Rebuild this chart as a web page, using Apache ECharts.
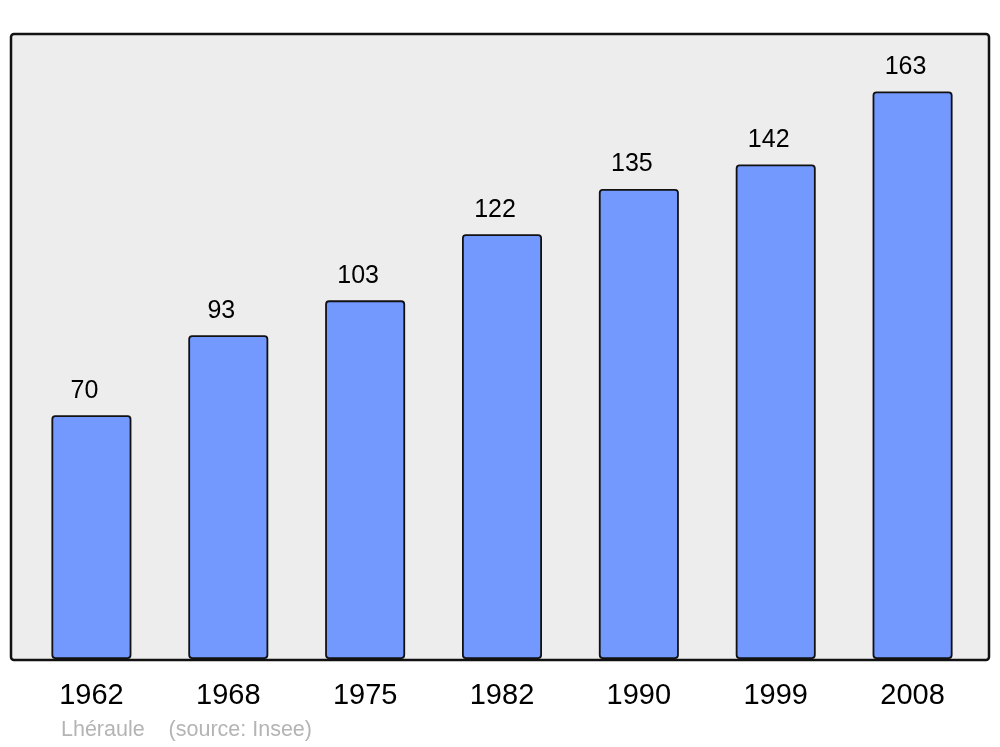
<!DOCTYPE html>
<html>
<head>
<meta charset="utf-8">
<script src="https://cdn.jsdelivr.net/npm/echarts@6/dist/echarts.min.js"></script>
<style>
  html, body { margin: 0; padding: 0; background: #fff; }
  #chart { width: 1000px; height: 747px; }
</style>
</head>
<body>
<div id="chart"></div>
<script>
const years = ["1962", "1968", "1975", "1982", "1990", "1999", "2008"];
const population = [70, 93, 103, 122, 135, 142, 163];

const chart = echarts.init(document.getElementById("chart"));

chart.setOption({
  animation: false,
  textStyle: { fontFamily: "Liberation Sans, Arial, sans-serif" },
  grid: { left: 23, right: 19, top: 34, bottom: 88 },
  // cadre gris derrière les barres
  graphic: [
    {
      type: "rect",
      z: -10,
      shape: { x: 11, y: 34, width: 978, height: 626, r: 3 },
      style: { fill: "#ededed", stroke: "#111", lineWidth: 2.5 },
    },
    {
      type: "text",
      left: 61,
      top: 719,
      style: {
        text: "Lhéraule    (source: Insee)",
        fill: "#b4b4b4",
        font: "21.5px Liberation Sans, Arial, sans-serif",
      },
    },
  ],
  xAxis: {
    type: "category",
    data: years,
    axisLine: { show: false },
    axisTick: { show: false },
    axisLabel: {
      color: "#000",
      fontSize: 29,
      margin: 22,
    },
  },
  yAxis: {
    type: "value",
    min: 0,
    max: 179.5,
    show: false,
    splitLine: { show: false },
  },
  series: [
    {
      type: "bar",
      data: population,
      barWidth: 80,
      itemStyle: {
        color: "#7399ff",
        borderColor: "#111",
        borderWidth: 1.8,
        borderRadius: 3,
      },
      label: {
        show: true,
        position: "top",
        distance: 12,
        offset: [-7, 0],
        color: "#000",
        fontSize: 25,
      },
    },
  ],
});
</script>
</body>
</html>
